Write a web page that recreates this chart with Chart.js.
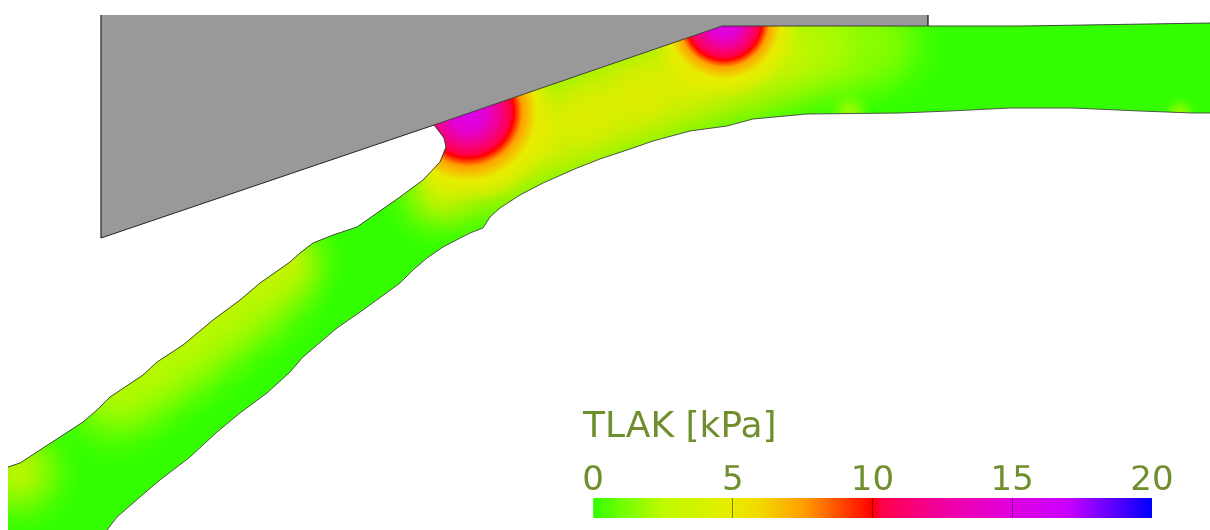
<!DOCTYPE html>
<html>
<head>
<meta charset="utf-8">
<script src="https://cdn.jsdelivr.net/npm/chart.js@4/dist/chart.umd.min.js"></script>
<style>
  html, body { margin: 0; background: #fff; overflow: hidden; }
  #field { position: absolute; left: 0; top: 0; }
  #bar { position: absolute; left: 573px; top: 400px; }
</style>
</head>
<body>
<canvas id="field" width="1210" height="530"></canvas>
<canvas id="bar" width="627" height="125"></canvas>
<script>
// outline of the band
const topX = [8, 20, 43, 63, 83, 97, 110, 143, 157, 183, 213, 240, 260, 290, 300, 313, 333, 357, 377, 400, 423, 440, 446, 444, 438, 434, 722, 1022, 1210];
const topY = [467, 463, 448, 435, 422, 410, 397, 375, 362, 345, 320, 300, 283, 262, 253, 243, 235, 227, 213, 197, 180, 162, 147, 138, 130, 125, 26, 26, 23];
const bottomX = [1210, 1193, 1140, 1073, 1010, 950, 900, 807, 753, 727, 690, 653, 633, 600, 577, 543, 520, 500, 490, 483, 470, 443, 427, 413, 403, 400, 363, 337, 303, 290, 267, 240, 217, 190, 160, 140, 117, 107];
const bottomY = [113, 113, 111, 108, 108, 111, 113, 114, 119, 126, 131, 141, 148, 159, 168, 183, 195, 208, 217, 228, 233, 247, 258, 270, 280, 283, 310, 328, 357, 372, 393, 413, 432, 457, 480, 497, 517, 530];

// tool body
const wedgeX = [101, 928, 928, 722, 434, 101];
const wedgeY = [15, 15, 26, 26, 125, 238];

// colour map
const mapValues = [0, 1, 2.5, 5, 6, 7.5, 9, 10, 10.3, 12.5, 15, 17, 20];
const mapColors = [[51, 255, 0], [110, 255, 0], [190, 250, 0], [232, 236, 0], [242, 216, 0], [255, 160, 0], [255, 64, 0], [255, 0, 0], [255, 0, 72], [240, 0, 160], [224, 0, 224], [200, 0, 255], [0, 0, 255]];

// soft pressure areas in the band
const softX = [18, 115, 150, 185, 220, 255, 285, 440, 490, 540, 590, 640, 690, 740, 790, 840, 880, 850, 1180];
const softY = [472, 392, 365, 340, 312, 285, 262, 190, 165, 135, 115, 95, 75, 60, 50, 45, 45, 112, 114];
const softR = [62, 72, 76, 76, 76, 76, 60, 60, 80, 88, 92, 92, 92, 90, 82, 75, 65, 22, 18];
const softValues = [3.2, 2.4, 2.6, 2.6, 2.8, 3, 3.5, 4, 5, 5, 5, 5, 5, 5, 4, 2.5, 1.5, 2, 2];
const softStops = [0, 0.25, 0.5, 0.75, 1];
const softAlpha = [0.9, 0.75, 0.45, 0.15, 0];

// contact patches
const patchX = [468, 724];
const patchY = [112, 22];
const patchR = [46, 38];
const patchPeak = [16, 17];
const ringRadius = [0.15, 0.4, 0.7, 0.92, 1, 1.18, 1.5];
const ringValues = [15.2, 14.5, 12, 10.3, 10, 7.5, 5];

// colour bar
const barTicks = [0, 5, 10, 15, 20];
const barTitle = 'TLAK [kPa]';

const ink = '#6f8e2e';

function colorAt(v) {
  let i = 0;
  while (i < mapValues.length - 2 && v > mapValues[i + 1]) i++;
  const t = Math.min(1, Math.max(0, (v - mapValues[i]) / (mapValues[i + 1] - mapValues[i])));
  return mapColors[i].map((c, k) => Math.round(c + (mapColors[i + 1][k] - c) * t));
}
const rgba = (c, a) => `rgba(${c[0]},${c[1]},${c[2]},${a})`;
const toPoints = (xs, ys) => xs.map((x, i) => ({ x, y: ys[i] }));

const bandPoints = toPoints(topX.concat(bottomX, [8, 8]), topY.concat(bottomY, [530, 467]));

function radial(chart, x, y, r) {
  const px = chart.scales.x.getPixelForValue(x);
  const py = chart.scales.y.getPixelForValue(y);
  return chart.ctx.createRadialGradient(px, py, 0, px, py, r);
}

function softFill(i) {
  return ctx => {
    if (!ctx.chart.chartArea) return 'rgba(0,0,0,0)';
    const g = radial(ctx.chart, softX[i], softY[i], softR[i]);
    const c = colorAt(softValues[i]);
    softStops.forEach((s, k) => g.addColorStop(s, rgba(c, softAlpha[k])));
    return g;
  };
}

function patchFill(i) {
  return ctx => {
    if (!ctx.chart.chartArea) return 'rgba(0,0,0,0)';
    const outer = patchR[i] * 2;
    const g = radial(ctx.chart, patchX[i], patchY[i], outer);
    g.addColorStop(0, rgba(colorAt(patchPeak[i]), 1));
    ringRadius.forEach((r, k) => {
      g.addColorStop(r * patchR[i] / outer, rgba(colorAt(ringValues[k]), 1));
    });
    g.addColorStop(1, rgba(colorAt(5), 0));
    return g;
  };
}

const shape = (data, backgroundColor) => ({
  data, backgroundColor, fill: 'shape', showLine: true, borderWidth: 0, pointRadius: 0
});
const edge = (data, borderColor, borderWidth) => ({
  data, borderColor, borderWidth, showLine: true, fill: false, pointRadius: 0
});

// listed in paint order, chart.js paints the last dataset first
const layers = [
  shape(bandPoints, rgba(mapColors[0], 1)),
  ...softX.map((_, i) => shape(bandPoints, softFill(i))),
  ...patchX.map((_, i) => shape(bandPoints, patchFill(i))),
  shape(toPoints(wedgeX.concat(wedgeX[0]), wedgeY.concat(wedgeY[0])), '#999999'),
  edge(toPoints(topX, topY), '#333333', 0.9),
  edge(toPoints(bottomX, bottomY), '#444444', 0.9),
  edge(toPoints([101, 101], [15, 238]), '#444444', 1.5),
  edge(toPoints([101, 434], [238, 125]), '#222222', 1),
  edge(toPoints([928, 928], [15, 26]), '#111111', 1.2)
];

new Chart(document.getElementById('field'), {
  type: 'scatter',
  data: { datasets: layers.reverse() },
  options: {
    responsive: false,
    animation: false,
    layout: { padding: 0 },
    plugins: { legend: { display: false }, tooltip: { enabled: false } },
    scales: {
      x: { type: 'linear', display: false, min: 0, max: 1210 },
      y: { type: 'linear', display: false, min: 0, max: 530, reverse: true }
    }
  }
});

new Chart(document.getElementById('bar'), {
  type: 'bar',
  data: {
    labels: [''],
    datasets: [{
      data: [[barTicks[0], barTicks[barTicks.length - 1]]],
      barPercentage: 1,
      categoryPercentage: 1,
      backgroundColor: ctx => {
        if (!ctx.chart.chartArea) return 'rgba(0,0,0,0)';
        const x = ctx.chart.scales.x;
        const g = ctx.chart.ctx.createLinearGradient(x.getPixelForValue(0), 0, x.getPixelForValue(20), 0);
        mapValues.forEach((v, i) => g.addColorStop(v / 20, rgba(mapColors[i], 1)));
        return g;
      }
    }]
  },
  options: {
    indexAxis: 'y',
    responsive: false,
    animation: false,
    layout: { padding: { left: 10, right: 48, top: 0, bottom: 7 } },
    plugins: {
      legend: { display: false },
      tooltip: { enabled: false },
      title: {
        display: true,
        text: barTitle,
        align: 'start',
        color: ink,
        padding: { top: 6, bottom: 16 },
        font: { family: 'DejaVu Sans', size: 36, weight: 'normal' }
      }
    },
    scales: {
      x: {
        position: 'top',
        min: 0,
        max: 20,
        afterBuildTicks: axis => { axis.ticks = barTicks.map(value => ({ value })); },
        afterFit: axis => { axis.paddingLeft = 0; axis.paddingRight = 0; },
        border: { display: false },
        grid: {
          z: 1,
          drawTicks: false,
          color: ctx => (ctx.tick.value === 0 || ctx.tick.value === 20) ? 'rgba(0,0,0,0)' : 'rgba(0,0,0,0.45)'
        },
        ticks: {
          color: ink,
          maxRotation: 0,
          autoSkip: false,
          padding: -4,
          font: { family: 'DejaVu Sans', size: 34 }
        }
      },
      y: {
        grid: { display: false },
        border: { display: false },
        ticks: { display: false },
        afterFit: axis => { axis.width = 10; }
      }
    }
  }
});
</script>
</body>
</html>
